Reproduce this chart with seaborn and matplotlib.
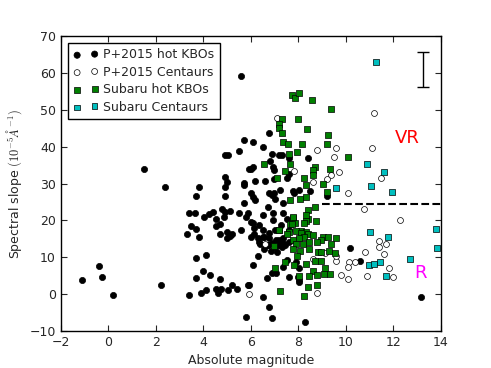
import matplotlib
matplotlib.use('Agg')
import matplotlib.pyplot as plt
import seaborn as sns
import pandas as pd

# P+2015 hot KBOs (H, slope)
kbo_h = [-1.09, -0.4, -0.29, 0.21, 1.5, 2.2, 2.4,
         3.31, 3.39, 3.63, 3.49, 3.7, 3.8, 3.69, 4.1, 4.0, 4.29, 3.7, 3.8, 3.7, 3.41, 3.89, 4.12, 4.51,
         4.69, 4.61, 4.75, 5.03, 5.21, 5.41, 4.01, 4.23, 4.4, 4.51, 4.51, 4.69, 4.68, 4.78, 4.85, 4.9,
         5.1, 5.0, 5.0, 5.1, 5.2, 4.9, 4.9, 5.0, 5.48, 5.7, 5.7, 5.87, 5.8, 5.87,
         5.59, 5.7, 5.49, 4.89, 5.03, 4.89, 5.7, 5.94,
         6.78, 6.1, 6.49, 6.89, 7.19, 7.3, 6.79, 7.59, 8.39, 6.08, 6.01, 6.92, 6.99, 7.62, 7.5, 6.19,
         6.6, 7.23, 6.99, 6.89, 7.76, 8.01, 8.49, 9.19, 6.08, 6.99,
         6.01, 6.19, 6.71, 6.92, 6.5, 6.78, 7.83, 7.03, 7.34, 6.01, 6.15, 6.36, 6.5, 6.78, 7.03, 6.01,
         6.29, 6.57,
         6.08, 6.29, 6.5, 6.78, 6.89, 6.67, 6.89, 7.06, 7.59, 7.34, 8.04, 7.97, 8.04, 8.29, 10.17, 5.94,
         7.51, 7.9, 8.01,
         6.4, 6.7, 6.9, 7.2, 7.35, 7.0, 7.3, 7.45, 6.55, 6.85, 7.1,
         5.8, 6.08, 5.59, 6.15, 6.5, 6.78, 7.06, 7.34, 7.62, 7.2, 6.36, 6.71, 7.62, 7.27, 6.92, 7.34, 7.51,
         13.18, 10.6]
kbo_s = [3.8, 7.5, 4.6, -0.1, 34.0, 2.6, 29.1,
         16.3, 22.0, 22.1, 18.6, 17.7, 15.4, 9.8, 10.6, 6.4, 5.3, 4.5, 29.1, 26.6, -0.3, 0.4, 1.1, 1.3,
         4.1, 0.2, 1.5, 1.1, 2.4, 1.5, 21.0, 21.7, 22.2, 20.3, 18.6, 18.9, 16.4, 23.1, 21.0, 22.3,
         22.6, 16.9, 15.1, 15.7, 16.3, 26.6, 29.1, 30.4, 22.0, 24.8, 30.2, 22.0, -6.1, 2.6,
         59.1, 41.9, 38.7, 37.6, 37.6, 31.8, 29.5, 34.0,
         43.6, 41.3, 39.8, 38.1, 37.6, 37.6, 36.2, 36.8, 37.0, 34.5, 33.8, 34.5, 33.6, 32.7, 31.6, 30.8,
         30.7, 28.2, 27.3, 26.8, 28.0, 28.2, 28.0, 26.6, 26.4, 31.3,
         27.3, 25.6, 23.7, 22.1, 21.4, 27.3, 27.3, 25.8, 24.6, 19.6, 17.8, 18.7, 17.3, 16.6, 17.3, 15.5,
         15.1, 15.4,
         7.9, 10.3, -0.7, -3.6, -6.6, 4.4, 5.6, 5.6, 4.7, 7.4, 7.0, 4.7, 3.8, -7.5, 12.4, 2.4,
         9.2, 8.8, 3.3,
         13.6, 13.3, 14.0, 14.7, 13.8, 12.9, 12.8, 13.4, 12.2, 11.8, 11.5,
         21.0, 19.2, 17.3, 16.4, 15.5, 15.1, 14.6, 15.1, 14.2, 13.3, 14.2, 13.3, 17.3, 18.7, 20.1, 21.9, 20.5,
         -0.7, 8.9]

# P+2015 Centaurs
cen_h = [7.09, 11.19, 11.1, 9.6, 8.8, 9.5, 7.8, 9.69, 9.39, 9.19, 8.6, 10.09, 11.49, 10.77, 12.29,
         11.39, 11.7, 11.4, 10.79, 11.6, 10.38, 10.14, 11.8, 10.9, 12.0, 10.1, 10.1, 9.8, 9.58, 9.6,
         9.13, 8.6, 8.8, 5.9, 6.6]
cen_s = [47.8, 49.1, 39.7, 39.7, 39.1, 37.2, 33.4, 33.1, 32.2, 31.3, 30.4, 27.3, 31.4, 23.0, 20.1,
         14.4, 13.7, 12.7, 11.3, 10.9, 8.6, 8.6, 7.0, 5.0, 4.6, 4.2, 7.4, 5.2, 8.9, 10.3,
         11.2, 9.6, 0.2, 0.1, 13.5]

# Subaru hot KBOs
sub_h = [7.72, 7.85, 8.01, 8.56, 9.36, 7.31, 7.99, 7.19, 7.19, 8.35, 7.29, 9.26, 7.37, 7.56, 8.14,
         9.19, 7.92, 7.59, 10.09, 6.54, 7.66, 8.71, 8.63, 9.33, 7.44, 8.6, 7.09, 8.24, 8.31, 9.05,
         9.2, 7.63, 8.05, 8.34,
         8.71, 8.39, 7.79, 8.39, 8.74, 7.65, 7.86, 7.2, 7.62, 8.11, 8.32,
         8.32, 8.32, 7.76, 7.72, 8.22, 7.19, 7.53, 7.9, 8.11, 8.39, 8.62, 8.25, 8.01, 7.76, 9.05, 9.23,
         8.95, 9.58, 9.37, 8.77, 8.46, 6.99, 8.18, 7.9, 7.76, 8.07, 8.43, 8.84, 8.95, 9.3, 9.54, 7.93,
         7.45, 7.83, 8.32, 8.71, 8.94, 9.12, 9.33, 9.09, 8.6, 7.03, 8.46, 8.77, 8.01, 7.24, 8.39, 8.8,
         8.24]
sub_s = [54.1, 53.3, 54.5, 52.6, 50.2, 47.4, 47.4, 46.1, 45.0, 44.8, 43.7, 43.1, 41.2, 40.8, 40.7,
         40.7, 38.5, 38.0, 37.3, 35.3, 35.2, 34.4, 33.6, 34.0, 33.4, 32.4, 31.5, 31.5, 29.7, 29.9,
         27.6, 25.5, 25.7, 26.4,
         23.6, 22.8, 20.6, 20.5, 19.9, 19.0, 19.3, 17.3, 16.9, 17.1, 16.9,
         21.4, 19.9, 20.8, 19.1, 19.3, 17.3, 16.4, 17.1, 16.7, 16.4, 16.0, 15.5, 15.2, 14.8, 15.5, 15.4,
         14.6, 15.1, 13.7, 14.2, 14.2, 13.0, 13.6, 13.7, 12.2, 11.7, 12.2, 11.5, 11.3, 11.7, 11.2, 10.3,
         8.8, 8.0, 8.3, 8.9, 8.9, 7.0, 5.4, 5.5, 6.2, 7.2, 4.8, 5.1, 4.8, 0.9, 2.0, 2.4,
         -0.6]

# Subaru Centaurs
subc_h = [11.25, 10.9, 11.6, 11.07, 11.96, 11.0, 11.77, 13.8, 13.84, 12.7, 10.97, 11.2, 11.42, 11.7, 9.58]
subc_s = [63.0, 35.4, 33.2, 29.3, 27.7, 16.9, 15.6, 17.7, 12.5, 9.6, 7.8, 8.2, 8.8, 4.8, 28.9]

sns.set_style('ticks', {'xtick.direction': 'in', 'ytick.direction': 'in'})
plt.rcParams['font.family'] = ['DejaVu Sans']
plt.rcParams['mathtext.fontset'] = 'cm'

fig = plt.figure(figsize=(4.91, 3.68), dpi=100)
ax = fig.add_axes([0.124, 0.1005, 0.774, 0.8017])

kbo = pd.DataFrame({'H': kbo_h, 'S': kbo_s})
cen = pd.DataFrame({'H': cen_h, 'S': cen_s})
sub = pd.DataFrame({'H': sub_h, 'S': sub_s})
subc = pd.DataFrame({'H': subc_h, 'S': subc_s})

sns.scatterplot(data=kbo, x='H', y='S', ax=ax, color='k', marker='o', s=20,
                edgecolor='k', linewidth=0.5, label='P+2015 hot KBOs', zorder=3)
sns.scatterplot(data=cen, x='H', y='S', ax=ax, color='white', marker='o', s=18,
                edgecolor='k', linewidth=0.5, label='P+2015 Centaurs', zorder=3)
sns.scatterplot(data=sub, x='H', y='S', ax=ax, color='g', marker='s', s=18,
                edgecolor='k', linewidth=0.5, label='Subaru hot KBOs', zorder=4)
sns.scatterplot(data=subc, x='H', y='S', ax=ax, color='c', marker='s', s=16,
                edgecolor='k', linewidth=0.5, label='Subaru Centaurs', zorder=4)

# typical error bar
ax.errorbar([13.24], [61.0], yerr=[4.75], color='k', capsize=4.5, lw=1, capthick=1)
# VR / R boundary
ax.hlines(24.5, 9.0, 14.0, colors='k', linestyles='--', lw=1.5)
ax.text(12.6, 42.3, 'VR', color='red', fontsize=13, ha='center', va='center')
ax.text(13.15, 5.8, 'R', color='magenta', fontsize=13, ha='center', va='center')

ax.set_xlim(-2, 14)
ax.set_ylim(-10, 70)
ax.set_xticks(range(-2, 15, 2))
ax.set_yticks(range(-10, 71, 10))
ax.tick_params(top=True, right=True, labelsize=9, length=4, width=0.8)
for sp in ax.spines.values():
    sp.set_linewidth(1)
    sp.set_color('k')
ax.set_xlabel('Absolute magnitude', fontsize=9)
ax.set_ylabel(r'Spectral slope $(10^{-5}\AA^{-1})$', fontsize=9)

ax.legend(loc='upper left', scatterpoints=2, fontsize=9, fancybox=False, edgecolor='k',
          framealpha=1, borderaxespad=0.6, handletextpad=0.4, labelspacing=0.35,
          borderpad=0.4)

plt.savefig('out.png', dpi=100)
